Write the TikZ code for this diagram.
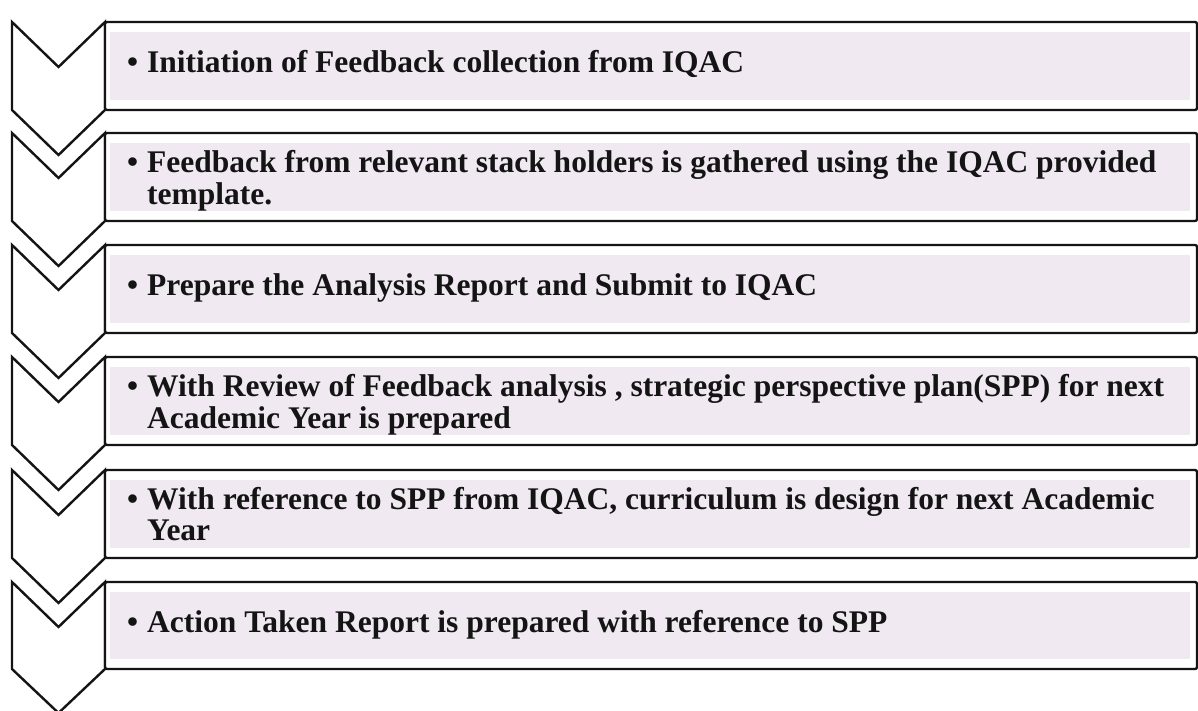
\documentclass[tikz,border=0pt]{standalone}
\usepackage{fontspec}
\setmainfont{Liberation Serif}
\definecolor{lav}{RGB}{240,233,242}
\definecolor{ink}{RGB}{20,20,20}
\newcommand{\steptext}[2]{\begin{tabular}{@{}l@{\hspace{9pt}}l@{}}\textbullet & #1\\ & #2\end{tabular}}
\newcommand{\steponeline}[1]{\begin{tabular}{@{}l@{\hspace{9pt}}l@{}}\textbullet & #1\end{tabular}}
\tikzset{
  chev/.style={draw=ink, line width=2.4pt, fill=white, line join=miter},
  boxframe/.style={draw=ink, line width=2.4pt, fill=white, rounded corners=2pt},
  boxfill/.style={fill=lav, draw=none},
  txt/.style={anchor=west, inner sep=0pt, text=ink,
    font=\bfseries\fontsize{31.5}{31}\selectfont}
}
\begin{document}
\begin{tikzpicture}[x=1pt,y=-1pt]
\useasboundingbox (0,0) rectangle (1198,711);
\clip (0,0) rectangle (1198,711);
\fill[white] (0,0) rectangle (1198,711);
% step 1
\draw[chev] (12,22) -- (58.5,67) -- (105,22) -- (105,110) -- (58.5,155) -- (12,110) -- cycle;
\draw[boxframe] (105,22) rectangle (1197,110);
\fill[boxfill] (110,32) rectangle (1190,100);
\node[txt] (t1) at (127,66) {\steponeline{Initiation of Feedback collection from IQAC}};
% step 2
\draw[chev] (12,133) -- (58.5,178) -- (105,133) -- (105,221) -- (58.5,266) -- (12,221) -- cycle;
\draw[boxframe] (105,133) rectangle (1197,221);
\fill[boxfill] (110,143) rectangle (1190,211);
\node[txt] (t2) at (127,182) {\steptext{Feedback from relevant stack holders is gathered using the IQAC provided}{template.}};
% step 3
\draw[chev] (12,245) -- (58.5,290) -- (105,245) -- (105,333) -- (58.5,378) -- (12,333) -- cycle;
\draw[boxframe] (105,245) rectangle (1197,333);
\fill[boxfill] (110,255) rectangle (1190,323);
\node[txt] (t3) at (127,289) {\steponeline{Prepare the Analysis Report and Submit to IQAC}};
% step 4
\draw[chev] (12,357) -- (58.5,402) -- (105,357) -- (105,445) -- (58.5,490) -- (12,445) -- cycle;
\draw[boxframe] (105,357) rectangle (1197,445);
\fill[boxfill] (110,367) rectangle (1190,435);
\node[txt] (t4) at (127,406) {\steptext{With Review of Feedback analysis , strategic perspective plan(SPP) for next}{Academic Year is prepared}};
% step 5
\draw[chev] (12,470) -- (58.5,515) -- (105,470) -- (105,558) -- (58.5,603) -- (12,558) -- cycle;
\draw[boxframe] (105,470) rectangle (1197,558);
\fill[boxfill] (110,480) rectangle (1190,548);
\node[txt] (t5) at (127,519) {\steptext{With reference to SPP from IQAC, curriculum is design for next Academic}{Year}};
% step 6
\draw[chev] (12,582) -- (58.5,627) -- (105,582) -- (105,669) -- (58.5,713) -- (12,669) -- cycle;
\draw[boxframe] (105,582) rectangle (1197,669);
\fill[boxfill] (110,592) rectangle (1190,659);
\node[txt] (t6) at (127,626) {\steponeline{Action Taken Report is prepared with reference to SPP}};
\end{tikzpicture}
\end{document}
